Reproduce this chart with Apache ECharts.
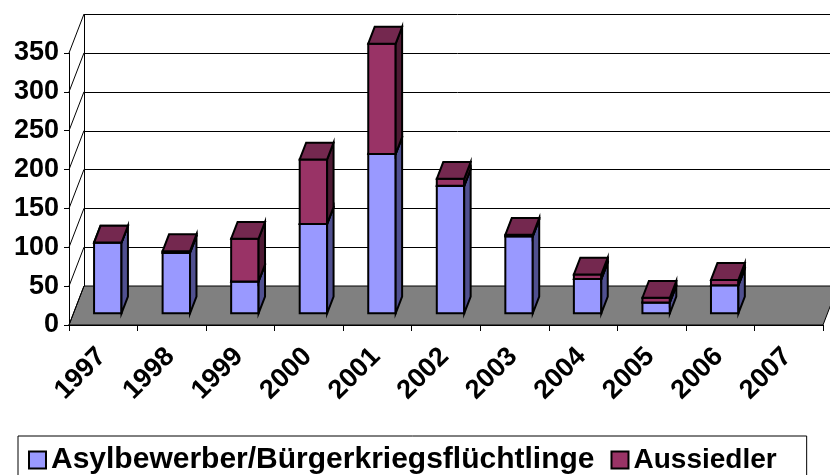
<!DOCTYPE html>
<html>
<head>
<meta charset="utf-8">
<script src="https://cdn.jsdelivr.net/npm/echarts@6/dist/echarts.min.js"></script>
<style>
    html, body { margin: 0; padding: 0; background: #fff; }
    #main { width: 830px; height: 475px; }
</style>
</head>
<body>
<div id="main"></div>
<script>
var years = ['1997', '1998', '1999', '2000', '2001', '2002', '2003', '2004', '2005', '2006', '2007'];
var asyl = [91, 78, 41, 115, 205, 164, 99, 44, 14, 36, null];
var aussiedler = [0, 2, 55, 83, 142, 9, 2, 6, 6, 7, null];
var yTicks = [0, 50, 100, 150, 200, 250, 300, 350];

var seriesNames = ['Asylbewerber/Bürgerkriegsflüchtlinge', 'Aussiedler'];

// 3D look: full depth of the floor, and where the bars sit in it
var depth = [15, -39];
var barFront = 0.3, barBack = 0.73;
var barRatio = 0.4;

var blueFaces = { front: '#9999FF', side: '#505090', top: '#7A7ACC' };
var purpleFaces = { front: '#993366', side: '#4D1A33', top: '#74284F' };

var dom = document.getElementById('main');
var myChart = echarts.init(dom, null, { renderer: 'canvas' });

function px(v) {
    return Math.round(v) + 0.5;
}

function renderWalls(params, api) {
    var cs = params.coordSys;
    var L = cs.x, R = cs.x + cs.width, B = cs.y + cs.height;
    var dx = depth[0], dy = depth[1];
    var yTop = api.coord([0, yTicks[yTicks.length - 1]])[1];
    var line = { stroke: '#000', lineWidth: 1 };
    var ch = [];
    // back wall
    ch.push({
        type: 'polygon',
        shape: { points: [[L + dx, yTop + dy], [R + dx, yTop + dy], [R + dx, B + dy], [L + dx, B + dy]] },
        style: { fill: '#fff' }
    });
    // floor
    ch.push({
        type: 'polygon',
        shape: { points: [[L, B], [R, B], [R + dx, B + dy], [L + dx, B + dy]] },
        style: { fill: '#808080', stroke: '#000', lineWidth: 1 }
    });
    yTicks.forEach(function (v) {
        var y = api.coord([0, v])[1];
        if (v > 0) {
            // gridline on the back wall
            ch.push({
                type: 'line',
                shape: { x1: L + dx, y1: px(y + dy), x2: R + dx, y2: px(y + dy) },
                style: line
            });
        }
        // left wall diagonal
        ch.push({
            type: 'line',
            shape: { x1: L, y1: y, x2: L + dx, y2: y + dy },
            style: line
        });
    });
    // back wall left edge
    ch.push({
        type: 'line',
        shape: { x1: px(L + dx), y1: yTop + dy, x2: px(L + dx), y2: B + dy },
        style: line
    });
    return { type: 'group', children: ch };
}

function box(api, i, lo, hi, faces) {
    var w = api.size([1, 0])[0] * barRatio;
    var c0 = api.coord([i, lo]);
    var c1 = api.coord([i, hi]);
    var x0 = c0[0] - w / 2, x1 = c0[0] + w / 2;
    var yb = c0[1], yt = c1[1];
    var ax = depth[0] * barFront, ay = depth[1] * barFront;
    var bx = depth[0] * barBack, by = depth[1] * barBack;
    var st = { stroke: '#000', lineWidth: 2, lineJoin: 'miter' };
    return [
        {
            type: 'polygon',
            shape: { points: [[x0 + ax, yt + ay], [x1 + ax, yt + ay], [x1 + ax, yb + ay], [x0 + ax, yb + ay]] },
            style: Object.assign({ fill: faces.front }, st)
        },
        {
            type: 'polygon',
            shape: { points: [[x1 + ax, yt + ay], [x1 + bx, yt + by], [x1 + bx, yb + by], [x1 + ax, yb + ay]] },
            style: Object.assign({ fill: faces.side }, st)
        },
        {
            type: 'polygon',
            shape: { points: [[x0 + ax, yt + ay], [x0 + bx, yt + by], [x1 + bx, yt + by], [x1 + ax, yt + ay]] },
            style: Object.assign({ fill: faces.top }, st)
        }
    ];
}

var legendFont = {
    color: '#000',
    fontWeight: 'bold',
    fontFamily: 'Liberation Sans, Arial, sans-serif'
};

var option = {
    animation: false,
    backgroundColor: '#fff',
    textStyle: { fontFamily: 'Liberation Sans, Arial, sans-serif' },
    grid: {
        left: 69,
        right: 7,
        top: 53,
        bottom: 150,
        containLabel: false,
        outerBoundsMode: 'none'
    },
    legend: {
        left: 18,
        top: 436,
        padding: [9, 30, 10, 10],
        itemGap: 16,
        itemWidth: 17,
        itemHeight: 17,
        icon: 'rect',
        backgroundColor: '#fff',
        borderColor: '#000',
        borderWidth: 1,
        borderRadius: 0,
        textStyle: Object.assign({ fontSize: 30 }, legendFont),
        data: [
            { name: seriesNames[0], textStyle: Object.assign({ fontSize: 30 }, legendFont) },
            { name: seriesNames[1], textStyle: Object.assign({ fontSize: 28 }, legendFont) }
        ]
    },
    xAxis: {
        type: 'category',
        data: years,
        boundaryGap: true,
        axisLine: { show: true, lineStyle: { color: '#000', width: 1 } },
        axisTick: { show: true, length: 6, lineStyle: { color: '#000' } },
        axisLabel: {
            rotate: 45,
            interval: 0,
            margin: 26,
            padding: [0, 2, 0, 0],
            color: '#000',
            fontSize: 27,
            fontWeight: 'bold',
            fontFamily: 'Liberation Sans, Arial, sans-serif'
        },
        splitLine: { show: false }
    },
    yAxis: {
        type: 'value',
        min: 0,
        max: 350,
        interval: 50,
        axisLine: { show: true, lineStyle: { color: '#000', width: 1 } },
        axisTick: { show: true, length: 5, lineStyle: { color: '#000' } },
        axisLabel: {
            margin: 10,
            color: '#000',
            fontSize: 27,
            fontWeight: 'bold',
            fontFamily: 'Liberation Sans, Arial, sans-serif'
        },
        splitLine: { show: false }
    },
    series: [
        {
            type: 'custom',
            name: 'walls',
            z: 1,
            silent: true,
            renderItem: renderWalls,
            data: [[0, 0]]
        },
        {
            type: 'custom',
            name: seriesNames[0],
            z: 2,
            itemStyle: { color: blueFaces.front, borderColor: '#000', borderWidth: 1.5 },
            renderItem: function (params, api) {
                var i = api.value(0);
                var a = api.value(1);
                if (isNaN(a)) return null;
                return { type: 'group', children: box(api, i, 0, a, blueFaces) };
            },
            data: years.map(function (y, i) { return [i, asyl[i]]; })
        },
        {
            type: 'custom',
            name: seriesNames[1],
            z: 3,
            itemStyle: { color: purpleFaces.front, borderColor: '#000', borderWidth: 1.5 },
            renderItem: function (params, api) {
                var i = api.value(0);
                var a = api.value(1);
                var b = api.value(2);
                if (isNaN(a) || isNaN(b)) return null;
                return { type: 'group', children: box(api, i, a, a + b, purpleFaces) };
            },
            data: years.map(function (y, i) { return [i, asyl[i], aussiedler[i]]; })
        }
    ]
};

myChart.setOption(option);
</script>
</body>
</html>
